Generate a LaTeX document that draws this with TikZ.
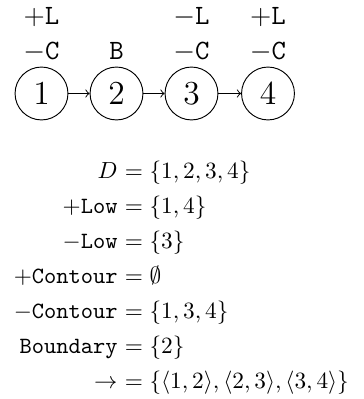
\documentclass[tikz,border=0pt]{standalone}
\usepackage{amsmath,amssymb}
\begin{document}
\begin{tikzpicture}[x=0.4292pt,y=-0.4292pt,
  state/.style={draw,circle,minimum size=22.7pt,inner sep=0pt,font=\Large},
  lbl/.style={inner sep=0pt,anchor=base,font=\large},
  lhs/.style={inner sep=0pt,anchor=base east},
  rhs/.style={inner sep=0pt,anchor=base west},
  conn/.style={->}]
\useasboundingbox (0,0) rectangle (363,399);
% states
\node[state] (n1) at (41.5,93.5) {1};
\node[state] (n2) at (116.5,93.5) {2};
\node[state] (n3) at (191.5,93.5) {3};
\node[state] (n4) at (268,93.5) {4};
\draw[conn] (n1) -- (n2);
\draw[conn] (n2) -- (n3);
\draw[conn] (n3) -- (n4);
% labels
\node[lbl] (l1a) at (41.5,25) {$+\texttt{L}$};
\node[lbl] (l1b) at (41.5,59.5) {$-\texttt{C}$};
\node[lbl] (l2b) at (116.5,59.5) {\texttt{B}};
\node[lbl] (l3a) at (191.5,25) {$-\texttt{L}$};
\node[lbl] (l3b) at (191.5,59.5) {$-\texttt{C}$};
\node[lbl] (l4a) at (268,25) {$+\texttt{L}$};
\node[lbl] (l4b) at (268,59.5) {$-\texttt{C}$};
% equations
\node[lhs] (e1l) at (118,178) {$D$};
\node[rhs] (e1r) at (118,178) {${}=\{1,2,3,4\}$};
\node[lhs] (e2l) at (118,213) {$+\texttt{Low}$};
\node[rhs] (e2r) at (118,213) {${}=\{1,4\}$};
\node[lhs] (e3l) at (118,248) {$-\texttt{Low}$};
\node[rhs] (e3r) at (118,248) {${}=\{3\}$};
\node[lhs] (e4l) at (118,283) {$+\texttt{Contour}$};
\node[rhs] (e4r) at (118,283) {${}=\emptyset$};
\node[lhs] (e5l) at (118,318) {$-\texttt{Contour}$};
\node[rhs] (e5r) at (118,318) {${}=\{1,3,4\}$};
\node[lhs] (e6l) at (118,353) {$\texttt{Boundary}$};
\node[rhs] (e6r) at (118,353) {${}=\{2\}$};
\node[lhs] (e7l) at (118,388) {$\rightarrow$};
\node[rhs] (e7r) at (118,388) {${}=\{\langle 1,2\rangle,\langle 2,3\rangle,\langle 3,4\rangle\}$};
\end{tikzpicture}
\end{document}
